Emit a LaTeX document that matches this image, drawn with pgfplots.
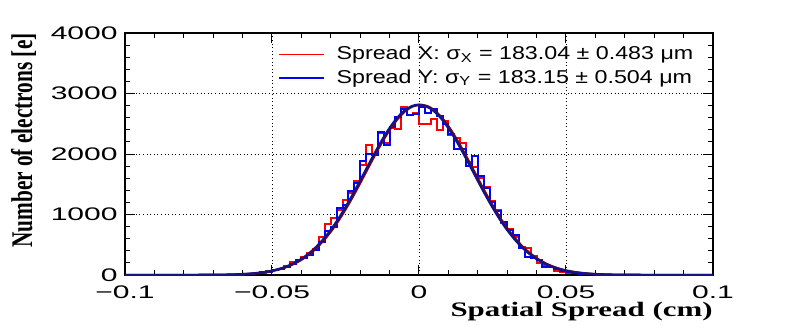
\documentclass[border=0pt]{standalone}
\usepackage{pgfplots}
\pgfplotsset{compat=1.18}
\usepackage{pgfplotstable}
\usepackage{fontspec}
\setmainfont{Liberation Sans}
\newfontfamily\tickfont{Liberation Sans}[FakeStretch=1.65]
\newfontfamily\legfont{Liberation Sans}[FakeStretch=1.25]
\newfontfamily\xlabfont{Liberation Serif}[FakeStretch=1.5]
\newfontfamily\ylabfont{Liberation Serif}[FakeStretch=0.71]
\definecolor{fitred}{RGB}{140,0,0}
\definecolor{fitblue}{RGB}{20,20,130}

\pgfplotstableread{
x y
-0.1 0
-0.064 6
-0.062 10
-0.060 14
-0.058 22
-0.056 30
-0.054 40
-0.052 62
-0.050 75
-0.048 105
-0.046 150
-0.044 215
-0.042 240
-0.040 300
-0.038 360
-0.036 430
-0.034 633
-0.032 850
-0.030 950
-0.028 1080
-0.026 1240
-0.024 1360
-0.022 1555
-0.020 1820
-0.018 2150
-0.016 1995
-0.014 2350
-0.012 2180
-0.010 2430
-0.008 2420
-0.006 2770
-0.004 2640
-0.002 2670
0.000 2490
0.002 2490
0.004 2580
0.006 2400
0.008 2540
0.010 2310
0.012 2260
0.014 2180
0.016 1870
0.018 1790
0.020 1600
0.022 1460
0.024 1220
0.026 1075
0.028 860
0.030 760
0.032 620
0.034 470
0.036 440
0.038 320
0.040 195
0.042 170
0.044 130
0.046 70
0.048 55
0.050 40
0.052 30
0.054 22
0.056 15
0.058 10
0.060 7
0.062 4
0.064 0
0.1 0
}\redhist

\pgfplotstableread{
x y
-0.1 0
-0.064 5
-0.062 8
-0.060 15
-0.058 20
-0.056 28
-0.054 45
-0.052 55
-0.050 80
-0.048 100
-0.046 140
-0.044 180
-0.042 250
-0.040 280
-0.038 330
-0.036 420
-0.034 550
-0.032 720
-0.030 800
-0.028 1100
-0.026 1150
-0.024 1390
-0.022 1520
-0.020 1880
-0.018 2000
-0.016 1990
-0.014 2370
-0.012 2150
-0.010 2450
-0.008 2610
-0.006 2750
-0.004 2640
-0.002 2660
0.000 2770
0.002 2680
0.004 2740
0.006 2630
0.008 2500
0.010 2330
0.012 2080
0.014 2090
0.016 1800
0.018 1970
0.020 1640
0.022 1430
0.024 1210
0.026 1050
0.028 880
0.030 745
0.032 661
0.034 445
0.036 305
0.038 275
0.040 248
0.042 138
0.044 137
0.046 100
0.048 60
0.050 45
0.052 32
0.054 20
0.056 14
0.058 10
0.060 7
0.062 4
0.064 0
0.1 0
}\bluehist

\pgfplotstableread{
x y
-0.1 0
-0.09 0
-0.08 0.2
-0.07 2.0
-0.065 5.5
-0.06 13.8
-0.0575 21.3
-0.055 32.3
-0.0525 48.0
-0.05 70.1
-0.0475 100.5
-0.045 141
-0.0425 195
-0.04 265
-0.0375 353
-0.035 461
-0.0325 592
-0.03 745
-0.0275 921
-0.025 1119
-0.0225 1333
-0.02 1559
-0.0175 1791
-0.015 2019
-0.0125 2235
-0.01 2429
-0.0075 2591
-0.005 2713
-0.0025 2789
0 2815
0.0025 2789
0.005 2713
0.0075 2591
0.01 2429
0.0125 2235
0.015 2019
0.0175 1791
0.02 1559
0.0225 1333
0.025 1119
0.0275 921
0.03 745
0.0325 592
0.035 461
0.0375 353
0.04 265
0.0425 195
0.045 141
0.0475 100.5
0.05 70.1
0.0525 48.0
0.055 32.3
0.0575 21.3
0.06 13.8
0.065 5.5
0.07 2.0
0.08 0.2
0.09 0
0.1 0
}\fitblue

\pgfplotstableread{
x y
-0.1 0
-0.0896 0
-0.0796 0.2
-0.0696 2.0
-0.0646 5.5
-0.0596 13.8
-0.0571 21.3
-0.0546 32.3
-0.0521 48.0
-0.0496 70.1
-0.0471 100.5
-0.0446 141
-0.0421 195
-0.0396 265
-0.0371 353
-0.0346 461
-0.0321 592
-0.0296 745
-0.0271 921
-0.0246 1119
-0.0221 1333
-0.0196 1559
-0.0171 1791
-0.0146 2019
-0.0121 2235
-0.0096 2429
-0.0071 2591
-0.0046 2713
-0.0021 2789
0.0004 2810
0.0029 2789
0.0054 2713
0.0079 2591
0.0104 2429
0.0129 2235
0.0154 2019
0.0179 1791
0.0204 1559
0.0229 1333
0.0254 1119
0.0279 921
0.0304 745
0.0329 592
0.0354 461
0.0379 353
0.0404 265
0.0429 195
0.0454 141
0.0479 100.5
0.0504 70.1
0.0529 48.0
0.0554 32.3
0.0579 21.3
0.0604 13.8
0.0654 5.5
0.0704 2.0
0.0804 0.2
0.0904 0
0.1 0
}\fitred

\begin{document}
\begin{tikzpicture}
\begin{axis}[
  scale only axis, width=294pt, height=121pt,
  at={(0,0)}, anchor=south west,
  xmin=-0.1, xmax=0.1, ymin=0, ymax=4000,
  xtick={-0.1,-0.05,0,0.05,0.1},
  xticklabels={−0.1,−0.05,0,0.05,0.1},
  ytick={0,1000,2000,3000,4000},
  yticklabels={0,1000,2000,3000,4000},
  minor x tick num=4, minor y tick num=4,
  tick align=inside, major tick length=5pt, minor tick length=2.5pt,
  grid=major,
  major grid style={black, line width=0.4pt, dash pattern=on 0.5pt off 1.3pt},
  axis line style={black, line width=0.6pt},
  every tick/.style={black, line width=0.5pt},
  ticklabel style={font=\tickfont\fontsize{9.1}{10}\selectfont},
  xticklabel style={inner sep=0pt, yshift=-5pt},
  yticklabel style={inner sep=0pt, xshift=-3.5pt},
  xlabel={Spatial Spread (cm)},
  xlabel style={font=\xlabfont\bfseries\fontsize{10.3}{12}\selectfont,
    at={(axis description cs:1,-0.11)}, anchor=north east, inner sep=0pt},
  ylabel={Number of electrons [e]},
  ylabel style={font=\ylabfont\bfseries\fontsize{15}{17}\selectfont,
    at={(axis description cs:-0.158,1)}, anchor=base east, inner sep=0pt},
  legend style={at={(axis description cs:0.26,0.962)}, anchor=north west,
    draw=none, fill=none, inner sep=0pt,
    font=\legfont\fontsize{9.3}{10}\selectfont,
    nodes={inner sep=1.75pt}},
  legend cell align=left,
  legend image code/.code={\draw[#1, line width=0.8pt] (0pt,0pt) -- (22.5pt,0pt);
    \path (26.5pt,0pt);},
]
\addplot[const plot mark left, red, line width=1pt] table[x=x,y=y] {\redhist};
\addlegendentry{Spread X: σ\textsubscript{X} = 183.04 ± 0.483 μm}
\addplot[const plot mark left, blue, line width=1pt] table[x=x,y=y] {\bluehist};
\addlegendentry{Spread Y: σ\textsubscript{Y} = 183.15 ± 0.504 μm}
\addplot[fitred, line width=1.2pt, smooth, forget plot] table[x=x,y=y] {\fitred};
\addplot[fitblue, line width=1.2pt, smooth, forget plot] table[x=x,y=y] {\fitblue};
\end{axis}
\pgfresetboundingbox
\path (-62.5pt,-26pt) rectangle (334pt,137.5pt);
\end{tikzpicture}
\end{document}
